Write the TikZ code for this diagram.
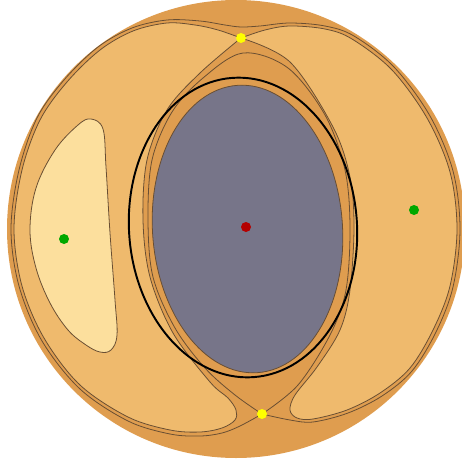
\documentclass[tikz,border=0pt]{standalone}
\usepackage{xcolor}
\usepackage{tikz}
\usetikzlibrary{calc}

\definecolor{darkband}{RGB}{223,157,79}
\definecolor{lobe}{RGB}{239,186,109}
\definecolor{pale}{RGB}{252,223,157}
\definecolor{core}{RGB}{119,117,137}
\definecolor{contour}{RGB}{105,78,50}
\definecolor{dotgreen}{RGB}{0,168,0}
\definecolor{dotyellow}{RGB}{255,255,0}
\definecolor{dotred}{RGB}{180,0,0}

\begin{document}
\begin{tikzpicture}[x=0.02cm, y=-0.02cm]

\tikzset{
    myregion/.style={fill=#1, draw=contour, line width=0.45pt},
    myline/.style={draw=contour, line width=0.45pt},
    myring/.style={draw=black, line width=1.1pt},
    mydot/.style={fill=#1}
}

\useasboundingbox (0,0) rectangle (461,463);

% ── 外圆 ──
\fill[darkband] (236,229) circle [radius=229];

% ── 左右两瓣 ──
\path[myregion=lobe] plot[smooth, tension=0.55] coordinates {
    (241,38) (218,30) (195,25) (167,23) (133,31) (100,50) (67,82) (40,120)
    (22,170) (14,229) (22,286) (44,338) (80,385) (128,417) (170,430) (200,432)
    (222,428) (235,420) (236,410) (228,398) (210,382) (173,333) (150,277)
    (143,220) (147,160) (167,110) (200,73) (241,38)} -- cycle;
\path[myregion=lobe] plot[smooth, tension=0.55] coordinates {
    (241,38) (265,30) (290,26) (325,29) (352,39) (392,70) (427,118) (450,172)
    (457,229) (450,286) (433,330) (410,368) (380,393) (347,410) (313,419)
    (297,418) (290,410) (295,395) (317,367) (340,330) (350,290) (354,227)
    (350,177) (333,127) (290,62) (241,38)} -- cycle;

% ── 内部浅色区 ──
\path[myregion=pale] plot[smooth cycle, tension=0.6] coordinates {
    (91,119) (103,129) (106,167) (110,233) (115,300) (117,335) (111,350)
    (100,352) (86,345) (68,330) (50,303) (36,268) (30,230) (36,188) (55,150)
    (78,125)};

% ── 过下方鞍点的等值线 ──
\draw[myline] plot[smooth, tension=0.55] coordinates {
    (262,414) (240,426) (222,433) (200,436) (170,434) (128,421) (80,389)
    (42,341) (19,286) (11,229) (19,170) (37,118) (64,80) (98,47) (132,28)
    (167,20) (200,21) (225,25) (241,27) (260,26) (290,23) (325,26) (354,36)
    (394,67) (430,116) (453,171) (460,229) (453,287) (436,332) (412,371)
    (382,396) (348,413) (313,422) (290,420) (262,414)};
\draw[myline] plot[smooth, tension=0.55] coordinates {
    (262,414) (235,395) (205,368) (175,328) (153,277) (148,220) (152,160)
    (172,112) (203,78) (243,53) (288,68) (325,115) (345,170) (350,227)
    (346,290) (330,335) (298,385) (262,414)};

% ── 中心椭圆 ──
\path[myregion=core, rotate around={4:(247.5,229)}]
    (247.5,229) ellipse [x radius=95, y radius=144];
\draw[myring, rotate around={4:(243,227.5)}]
    (243,227.5) ellipse [x radius=114, y radius=150];

% ── 特征点 ──
\fill[mydot=dotyellow] (241,38) circle [radius=5];
\fill[mydot=dotyellow] (262,414) circle [radius=5];
\fill[mydot=dotgreen] (64,239) circle [radius=5];
\fill[mydot=dotgreen] (414,210) circle [radius=5];
\fill[mydot=dotred] (246,227) circle [radius=5];

\end{tikzpicture}
\end{document}
